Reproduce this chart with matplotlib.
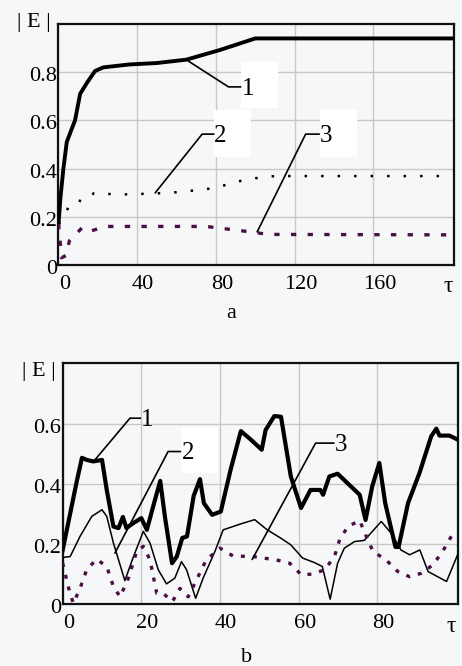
import matplotlib
import matplotlib.pyplot as plt
import matplotlib.transforms as mtransforms
from matplotlib.patches import Rectangle

matplotlib.use("Agg")

plt.rcParams["font.family"] = ["Liberation Serif", "DejaVu Serif"]

BG = "#f6f7f9"

# ---- panel a data ----
t1a = [0, 1, 2.5, 4.2, 6.5, 8.4, 11, 14.4, 18.6, 22.8, 36, 50, 65, 82, 100, 200]
e1a = [0.17, 0.28, 0.40, 0.51, 0.56, 0.60, 0.71, 0.755, 0.805, 0.82, 0.832, 0.838, 0.852, 0.892, 0.94, 0.94]
t2a = [0, 3, 5, 9, 13, 18, 23, 35, 50, 60, 70, 80, 90, 100, 110, 200]
e2a = [0.17, 0.2, 0.24, 0.27, 0.262, 0.298, 0.295, 0.293, 0.297, 0.302, 0.31, 0.32, 0.345, 0.36, 0.369, 0.369]
t3a = [0, 0.8, 1.5, 4, 5.5, 8, 12, 16, 20, 25, 75, 85, 95, 100, 106, 200]
e3a = [0.17, 0.1, 0.03, 0.04, 0.1, 0.12, 0.155, 0.14, 0.15, 0.16, 0.16, 0.15, 0.14, 0.135, 0.127, 0.125]

# ---- panel b data ----
t1b = [0, 3.6, 4.9, 6.1, 7.8, 10, 11.2, 12.9, 14.2, 15.3, 16.2, 18, 20, 21.4, 23, 24.8, 26,
       27.8, 29, 30.4, 31.6, 33.3, 34.9, 35.9, 38, 40.2, 42.7, 45.3, 47.8, 50.6, 51.6, 53.8,
       55.5, 58, 60.6, 63, 65.5, 66.2, 67.8, 69.9, 75.5, 77, 78.7, 80.5, 82, 84.6, 85.4, 87.8,
       90.7, 93.7, 95, 95.8, 98.3, 100.4]
e1b = [0.18, 0.41, 0.487, 0.48, 0.475, 0.48, 0.38, 0.258, 0.253, 0.29, 0.253, 0.27, 0.286,
       0.247, 0.325, 0.41, 0.29, 0.136, 0.158, 0.22, 0.225, 0.36, 0.416, 0.336, 0.297, 0.308,
       0.448, 0.576, 0.548, 0.514, 0.58, 0.626, 0.624, 0.425, 0.32, 0.38, 0.38, 0.364, 0.425,
       0.434, 0.364, 0.28, 0.392, 0.47, 0.336, 0.19, 0.19, 0.336, 0.436, 0.559, 0.584, 0.561,
       0.561, 0.548]
t2b = [0, 1.9, 4.4, 7.4, 10, 11.2, 12.9, 15.8, 18, 20.5, 22.2, 24.3, 26.4, 28.5, 30.2, 31.5,
       33.8, 35.7, 38.7, 40.8, 45.3, 48.8, 52, 55.5, 58, 61, 64, 66, 68, 69.9, 71.6, 74.2, 76.7,
       81, 83.5, 86, 88.2, 90.8, 92.9, 97.6, 100.4]
e2b = [0.155, 0.158, 0.225, 0.292, 0.314, 0.292, 0.203, 0.078, 0.158, 0.242, 0.203, 0.114,
       0.067, 0.086, 0.141, 0.114, 0.019, 0.086, 0.175, 0.247, 0.267, 0.281, 0.247, 0.219,
       0.197, 0.153, 0.138, 0.125, 0.016, 0.136, 0.186, 0.208, 0.212, 0.275, 0.236, 0.18,
       0.164, 0.18, 0.108, 0.075, 0.164]
t3b = [0, 1.4, 2.7, 4.4, 6.1, 8.6, 11.2, 12.9, 14.6, 16.7, 18.8, 20.5, 22.2, 23.9, 25.5, 27.9,
       29.8, 31.9, 33.6, 36.5, 40, 43.3, 48.4, 54.3, 57.7, 60.7, 63.6, 66.6, 69.1, 70.4, 72.5,
       75.5, 77.2, 78.9, 82.2, 85.2, 88.2, 91.1, 94.1, 96.6, 99]
e3b = [0.136, 0.058, 0.002, 0.052, 0.114, 0.149, 0.125, 0.058, 0.024, 0.086, 0.175, 0.192,
       0.147, 0.036, 0.036, 0.008, 0.052, 0.024, 0.069, 0.147, 0.186, 0.16, 0.158, 0.147,
       0.136, 0.097, 0.1, 0.114, 0.158, 0.214, 0.258, 0.278, 0.225, 0.175, 0.147, 0.108,
       0.091, 0.102, 0.13, 0.175, 0.23]

fig = plt.figure(figsize=(4.62, 6.66), dpi=100, facecolor=BG)
ax_a = fig.add_axes([0.1266, 0.6021, 0.8561, 0.3619])
ax_b = fig.add_axes([0.1357, 0.0931, 0.8556, 0.3619])

PURPLE = "#4a0f45"


def style(ax, xticks, yticks, xlim, ylim):
    ax.set_facecolor(BG)
    ax.set_xlim(*xlim)
    ax.set_ylim(*ylim)
    ax.set_xticks(xticks)
    ax.set_yticks(yticks)
    ax.set_xticklabels([str(v) for v in xticks], fontsize=16)
    ax.set_yticklabels(["0" if v == 0 else f"{v:.1f}" for v in yticks], fontsize=16)
    ax.grid(True, color="#c8c8c8", lw=1.0)
    ax.set_axisbelow(True)
    ax.tick_params(axis="x", length=0, pad=7)
    ax.tick_params(axis="y", length=0, pad=1)
    for s in ax.spines.values():
        s.set_linewidth(1.6)
        s.set_color("#111111")
    dx = mtransforms.ScaledTranslation(6 / 100, 0, fig.dpi_scale_trans)
    for lab in ax.get_xticklabels():
        lab.set_transform(lab.get_transform() + dx)
    dy = mtransforms.ScaledTranslation(0, -2 / 100, fig.dpi_scale_trans)
    for lab in ax.get_yticklabels():
        lab.set_transform(lab.get_transform() + dy)


def label(ax, pts, txt, txy, box=None):
    xs, ys = zip(*pts)
    ax.plot(xs, ys, color="black", lw=1.2, zorder=6)
    if box is not None:
        ax.add_patch(Rectangle((box[0], box[1]), box[2], box[3], fc="white", ec="none", zorder=5))
    ax.text(txy[0], txy[1], txt, fontsize=18, ha="left", va="center", zorder=7)


# panel a
style(ax_a, [0, 40, 80, 120, 160], [0, 0.2, 0.4, 0.6, 0.8], (0, 201), (0, 1.0))
ax_a.plot(t1a, e1a, color="black", lw=2.8, zorder=4)
ax_a.plot(t2a, e2a, color="black", lw=1.8, linestyle=(0, (1, 5.6)), zorder=4)
ax_a.plot(t3a, e3a, color=PURPLE, lw=2.4, linestyle=(0, (1.6, 3.4)), zorder=4)
label(ax_a, [(66, 0.846), (86.4, 0.739), (92.5, 0.739)], "1", (93.2, 0.73), (92.5, 0.651, 18.8, 0.191))
label(ax_a, [(49.2, 0.3), (73, 0.543), (78.9, 0.543)], "2", (79.2, 0.535), (78.8, 0.448, 18.8, 0.195))
label(ax_a, [(101, 0.138), (125.6, 0.543), (132.4, 0.543)], "3", (132.8, 0.535), (132.8, 0.448, 18.8, 0.195))

# panel b
style(ax_b, [0, 20, 40, 60, 80], [0, 0.2, 0.4, 0.6], (0, 100.5), (0, 0.803))
ax_b.plot(t1b, e1b, color="black", lw=3.0, zorder=4)
ax_b.plot(t2b, e2b, color="black", lw=1.1, zorder=4)
ax_b.plot(t3b, e3b, color=PURPLE, lw=2.4, linestyle=(0, (1.2, 2.4)), zorder=4)
label(ax_b, [(8.05, 0.478), (17.1, 0.619), (19.7, 0.619)], "1", (20.0, 0.613))
label(ax_b, [(13.3, 0.17), (26.8, 0.508), (29.9, 0.508)], "2", (30.2, 0.503), (30.1, 0.437, 9.4, 0.153))
label(ax_b, [(48.2, 0.149), (64.3, 0.536), (68.9, 0.536)], "3", (69.2, 0.53))

# axis names and panel letters
fig.text(17 / 462, 1 - 22 / 666, "| E |", fontsize=16, ha="left", va="center")
fig.text(22 / 462, 1 - 371 / 666, "| E |", fontsize=16, ha="left", va="center")
fig.text(448 / 462, 1 - 286 / 666, "τ", fontsize=17, ha="center", va="center")
fig.text(451 / 462, 1 - 626 / 666, "τ", fontsize=17, ha="center", va="center")
fig.text(231 / 462, 1 - 318 / 666, "a", fontsize=16, ha="center", va="baseline")
fig.text(247 / 462, 1 - 662 / 666, "b", fontsize=16, ha="center", va="baseline")

fig.savefig("out.png", dpi=100, facecolor=BG)
